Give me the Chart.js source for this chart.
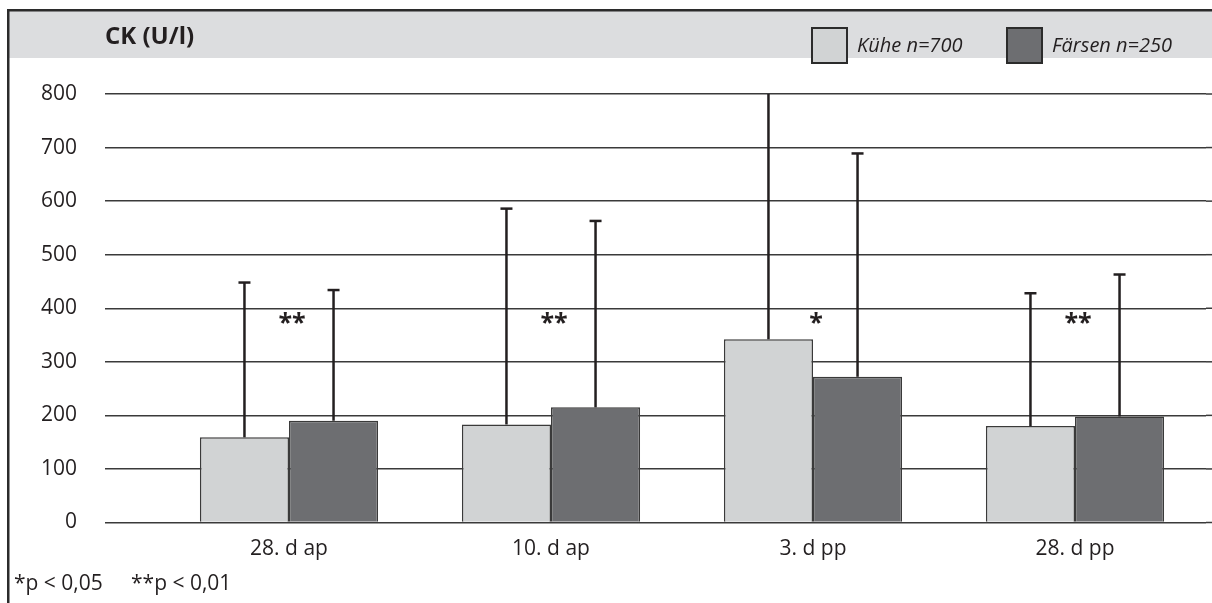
<!DOCTYPE html>
<html>
<head>
<meta charset="utf-8">
<script src="https://cdn.jsdelivr.net/npm/chart.js@4.4.1/dist/chart.umd.min.js"></script>
<style>
	html, body { margin: 0; padding: 0; background: #fff; }
	#wrap { width: 1212px; height: 603px; position: relative; }
</style>
</head>
<body>
<div id="wrap"><canvas id="ck"></canvas></div>
<script>
// values
const categories = ["28. d ap", "10. d ap", "3. d pp", "28. d pp"];
const kuehe = [159, 183, 342, 180];
const kueheSD = [289, 403, 600, 248];
const faersen = [190, 215, 272, 198];
const faersenSD = [244, 348, 417, 265];
const signif = ["**", "**", "*", "**"];
const sigLevel = 357;
const yTicks = [0, 100, 200, 300, 400, 500, 600, 700, 800];

const ink = "#231f20";
const font = "'Open Sans', 'DejaVu Sans', sans-serif";

// header band, frame, title and legend
const frame = {
	id: "frame",
	beforeDraw(chart) {
		const c = chart.ctx;
		const w = chart.width, h = chart.height;
		c.save();
		c.fillStyle = "#fff";
		c.fillRect(0, 0, w, h);
		c.fillStyle = "#dcdddf";
		c.fillRect(8, 11, w - 8, 47);
		c.fillStyle = "#2b2b2b";
		c.fillRect(8, 9, w - 8, 2.5);
		c.fillRect(7, 9, 2.5, h - 9);

		c.fillStyle = ink;
		c.font = "bold 24px " + font;
		c.textBaseline = "alphabetic";
		c.fillText("CK (U/l)", 105, 44);

		const ds = chart.data.datasets;
		const legendX = [812, 1007];
		c.font = "italic 20px " + font;
		ds.forEach((d, i) => {
			c.fillStyle = d.backgroundColor;
			c.fillRect(legendX[i], 28, 35, 35);
			c.strokeStyle = "#2b2b2b";
			c.lineWidth = 2;
			c.strokeRect(legendX[i], 28, 35, 35);
			c.fillStyle = ink;
			c.fillText(d.label, legendX[i] + 45, 52);
		});

		c.font = "21px " + font;
		c.fillText("*p < 0,05", 14, 590);
		c.fillText("**p < 0,01", 131, 590);
		c.restore();
	},
	beforeDatasetsDraw(chart) {
		// grid lines run on to the right edge of the picture
		const c = chart.ctx, y = chart.scales.y, a = chart.chartArea;
		c.save();
		c.strokeStyle = "#3a3a3a";
		c.lineWidth = 1.5;
		yTicks.forEach(v => {
			const py = y.getPixelForValue(v);
			c.beginPath();
			c.moveTo(a.right, py);
			c.lineTo(chart.width, py);
			c.stroke();
		});
		c.restore();
	}
};

// error bars (upper only) and significance marks
const errorBars = {
	id: "errorBars",
	afterDatasetsDraw(chart) {
		const c = chart.ctx, y = chart.scales.y, a = chart.chartArea;
		const sds = [kueheSD, faersenSD];
		c.save();
		c.strokeStyle = ink;
		c.lineWidth = 2.5;
		chart.data.datasets.forEach((d, di) => {
			chart.getDatasetMeta(di).data.forEach((bar, i) => {
				const top = y.getPixelForValue(d.data[i] + sds[di][i]);
				const end = Math.max(top, a.top);
				c.beginPath();
				c.moveTo(bar.x, bar.y);
				c.lineTo(bar.x, end);
				c.stroke();
				if (top >= a.top) {
					c.beginPath();
					c.moveTo(bar.x - 6, top);
					c.lineTo(bar.x + 6, top);
					c.stroke();
				}
			});
		});

		const x = chart.scales.x;
		c.fillStyle = ink;
		c.font = "bold 25px " + font;
		c.textAlign = "center";
		c.textBaseline = "alphabetic";
		signif.forEach((s, i) => {
			c.fillText(s, x.getPixelForValue(i) + 3, y.getPixelForValue(sigLevel));
		});
		c.restore();
	}
};

new Chart(document.getElementById("ck"), {
	type: "bar",
	data: {
		labels: categories,
		datasets: [
			{
				label: "Kühe n=700",
				data: kuehe,
				backgroundColor: "#d1d3d4",
				borderColor: "#3a3a3a",
				borderWidth: 1.5
			},
			{
				label: "Färsen n=250",
				data: faersen,
				backgroundColor: "#6d6e71",
				borderColor: "#3a3a3a",
				borderWidth: 1.5
			}
		]
	},
	options: {
		responsive: true,
		maintainAspectRatio: false,
		animation: false,
		categoryPercentage: 0.68,
		barPercentage: 1.0,
		layout: { padding: { top: 94, right: 6, bottom: 0, left: 0 } },
		plugins: {
			legend: { display: false },
			title: { display: false },
			tooltip: { enabled: false }
		},
		scales: {
			x: {
				grid: { display: false, drawTicks: false },
				border: { display: false },
				ticks: { color: ink, font: { family: font, size: 21 }, padding: 14 },
				afterFit(scale) { scale.height = 80.5; }
			},
			y: {
				min: 0,
				max: 800,
				afterBuildTicks(scale) { scale.ticks = yTicks.map(v => ({ value: v })); },
				grid: { color: "#3a3a3a", lineWidth: 1.5, drawTicks: true, tickLength: 53 },
				border: { display: false },
				ticks: { color: ink, font: { family: font, size: 21 }, padding: 28 },
				afterFit(scale) { scale.width = 158; }
			}
		}
	},
	plugins: [frame, errorBars]
});
</script>
</body>
</html>
